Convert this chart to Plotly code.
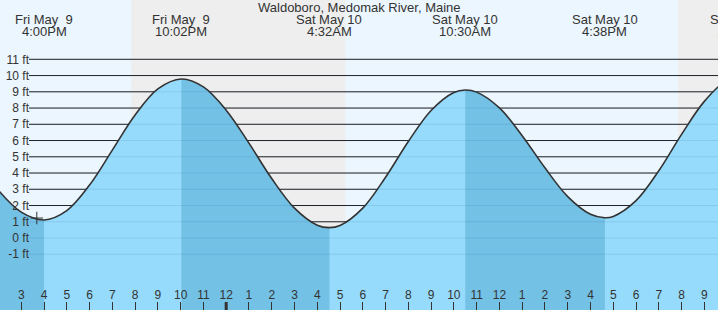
import plotly.graph_objects as go
import pandas as pd

BASE = pd.Timestamp("2025-05-09 00:00")

# ---- data ----
title_text = "Waldoboro, Medomak River, Maine"

curve_times = [
    "2025-05-09 13:00", "2025-05-09 14:00", "2025-05-09 15:00", "2025-05-09 16:00",
    "2025-05-09 17:00", "2025-05-09 18:00", "2025-05-09 19:00", "2025-05-09 20:00",
    "2025-05-09 21:00", "2025-05-09 22:02", "2025-05-09 23:00", "2025-05-10 00:00",
    "2025-05-10 01:00", "2025-05-10 02:00", "2025-05-10 03:00", "2025-05-10 04:00",
    "2025-05-10 04:32", "2025-05-10 05:00", "2025-05-10 06:00", "2025-05-10 07:00",
    "2025-05-10 08:00", "2025-05-10 09:00", "2025-05-10 10:00", "2025-05-10 10:30",
    "2025-05-10 11:00", "2025-05-10 12:00", "2025-05-10 13:00", "2025-05-10 14:00",
    "2025-05-10 15:00", "2025-05-10 16:00", "2025-05-10 16:38", "2025-05-10 17:00",
    "2025-05-10 18:00", "2025-05-10 19:00", "2025-05-10 20:00", "2025-05-10 21:00",
    "2025-05-10 22:00", "2025-05-10 22:42",
]
curve_heights = [
    4.83, 2.93, 1.59, 1.11,
    1.69, 3.26, 5.41, 7.57,
    9.18, 9.79, 9.30, 7.87,
    5.84, 3.66, 1.84, 0.79,
    0.64, 0.77, 1.84, 3.74,
    5.94, 7.85, 8.96, 9.11,
    8.98, 8.01, 6.30, 4.32,
    2.55, 1.46, 1.25, 1.33,
    2.30, 4.14, 6.38, 8.41,
    9.72, 10.0,
]

ext_times = ["2025-05-09 16:00", "2025-05-09 22:02", "2025-05-10 04:32",
             "2025-05-10 10:30", "2025-05-10 16:38", "2025-05-10 22:42"]
ext_kinds = ["low", "high", "low", "high", "low", "high"]
ext_day_labels = ["Fri May\u00a0 9", "Fri May\u00a0 9", "Sat May 10",
                  "Sat May 10", "Sat May 10", "Sat May 10"]
ext_time_labels = ["4:00PM", "10:02PM", "4:32AM", "10:30AM", "4:38PM", "10:42PM"]

night_starts = ["2025-05-09 19:50", "2025-05-10 19:51"]
night_ends = ["2025-05-10 05:14", "2025-05-11 05:13"]

now_time = "2025-05-09 15:41"
now_height = 1.23

view_start = "2025-05-09 14:04"
view_end = "2025-05-10 21:36"
hour_ticks = pd.date_range("2025-05-09 15:00", "2025-05-10 21:00", freq="h")
midnight = "2025-05-10 00:00"

y_ticks = [-1, 0, 1, 2, 3, 4, 5, 6, 7, 8, 9, 10, 11]
y_range = [-4.43, 14.65]

# ---- styles ----
DAY = "#ecf6fe"
NIGHT = "#eeeeee"
WATER = "#96dbfb"
WATER_DARK = "#74c1e6"
INK = "#333333"
FONT = "Liberation Sans, Arial, sans-serif"


def hrs(s):
    return (pd.Timestamp(s) - BASE) / pd.Timedelta(hours=1)


ct = [hrs(s) for s in curve_times]
et = [hrs(s) for s in ext_times]
x0, x1 = hrs(view_start), hrs(view_end)

# falling-tide intervals (high -> next low); the curve starts on a falling limb
falling = []
prev_t, prev_kind = ct[0], "high"
for t, k in zip(et, ext_kinds):
    if k == "low" and prev_kind == "high":
        falling.append((prev_t, t))
    prev_t, prev_kind = t, k

fig = go.Figure()

fig.add_trace(go.Scatter(x=ct, y=curve_heights, mode="lines", line=dict(width=0, shape="spline"),
                         fill="tozeroy", fillcolor=WATER, hoverinfo="skip"))
for a, b in falling:
    xs = [t for t in ct if a - 1e-6 <= t <= b + 1e-6]
    ys = [h for t, h in zip(ct, curve_heights) if a - 1e-6 <= t <= b + 1e-6]
    fig.add_trace(go.Scatter(x=xs, y=ys, mode="lines", line=dict(width=0, shape="spline"),
                             fill="tozeroy", fillcolor=WATER_DARK, hoverinfo="skip"))
fig.add_trace(go.Scatter(x=ct, y=curve_heights, mode="lines",
                         line=dict(width=1.6, color=INK, shape="spline"), hoverinfo="skip"))
fig.add_trace(go.Scatter(x=[hrs(now_time)], y=[now_height], mode="markers",
                         marker=dict(symbol="cross-thin", size=9, line=dict(width=1, color=INK)),
                         hoverinfo="skip"))

shapes = []
# sky
shapes.append(dict(type="rect", xref="paper", yref="paper", x0=0, x1=1, y0=0, y1=1,
                   fillcolor=DAY, line=dict(width=0), layer="below"))
for a, b in zip(night_starts, night_ends):
    shapes.append(dict(type="rect", xref="x", yref="paper", x0=hrs(a), x1=hrs(b), y0=0, y1=1,
                       fillcolor=NIGHT, line=dict(width=0), layer="below"))
# grid lines
for v in y_ticks:
    shapes.append(dict(type="line", xref="paper", yref="y", x0=29 / 718, x1=1, y0=v, y1=v,
                       line=dict(color="#222222", width=1), layer="between"))
# water below datum
shapes.append(dict(type="rect", xref="paper", yref="y", x0=0, x1=1, y0=y_range[0] - 5, y1=0,
                   fillcolor=WATER, line=dict(width=0), layer="between"))
for a, b in falling:
    shapes.append(dict(type="rect", xref="x", yref="y", x0=a - 5 if a == ct[0] else a, x1=b,
                       y0=y_range[0] - 5, y1=0, fillcolor=WATER_DARK, line=dict(width=0),
                       layer="between"))
# faint lines through the water
for v in y_ticks:
    shapes.append(dict(type="line", xref="paper", yref="y", x0=29 / 718, x1=1, y0=v, y1=v,
                       line=dict(color="rgba(0,60,120,0.10)", width=1), layer="above"))
# midnight tick
shapes.append(dict(type="line", xref="x", yref="paper", x0=hrs(midnight), x1=hrs(midnight),
                   y0=0, y1=8 / 310, line=dict(color=INK, width=3), layer="above"))

annotations = [dict(text=title_text, xref="paper", yref="paper", x=0.5, y=1 - 7 / 310,
                    xanchor="center", yanchor="middle", showarrow=False,
                    font=dict(family=FONT, size=13, color=INK))]
for t, d, tl in zip(et, ext_day_labels, ext_time_labels):
    px = (t - x0) / (x1 - x0)
    annotations.append(dict(text=d, xref="paper", yref="paper", x=px, y=1 - 19.5 / 310,
                            xanchor="center", yanchor="middle", showarrow=False,
                            font=dict(family=FONT, size=13, color=INK)))
    annotations.append(dict(text=tl, xref="paper", yref="paper", x=px, y=1 - 31.5 / 310,
                            xanchor="center", yanchor="middle", showarrow=False,
                            font=dict(family=FONT, size=13, color=INK)))

tick_vals = [hrs(t) for t in hour_ticks]
tick_text = [str((t.hour % 12) or 12) for t in hour_ticks]

fig.update_layout(
    width=718, height=310,
    margin=dict(l=0, r=0, t=0, b=0),
    paper_bgcolor="white", plot_bgcolor="rgba(0,0,0,0)",
    showlegend=False,
    shapes=shapes, annotations=annotations,
    font=dict(family=FONT, size=12, color=INK),
    xaxis=dict(range=[x0, x1], tickvals=tick_vals, ticktext=tick_text,
               ticks="inside", ticklen=8, tickwidth=1, tickcolor=INK,
               ticklabelposition="inside", showgrid=False, zeroline=False, showline=False,
               tickfont=dict(family=FONT, size=12, color=INK), fixedrange=True),
    yaxis=dict(range=y_range, tickvals=y_ticks, ticktext=[f"{v} ft" for v in y_ticks],
               anchor="free", position=29 / 718, side="left", ticks="",
               showgrid=False, zeroline=False, showline=False,
               tickfont=dict(family=FONT, size=12, color=INK), fixedrange=True),
)

fig.write_html("out.html")
